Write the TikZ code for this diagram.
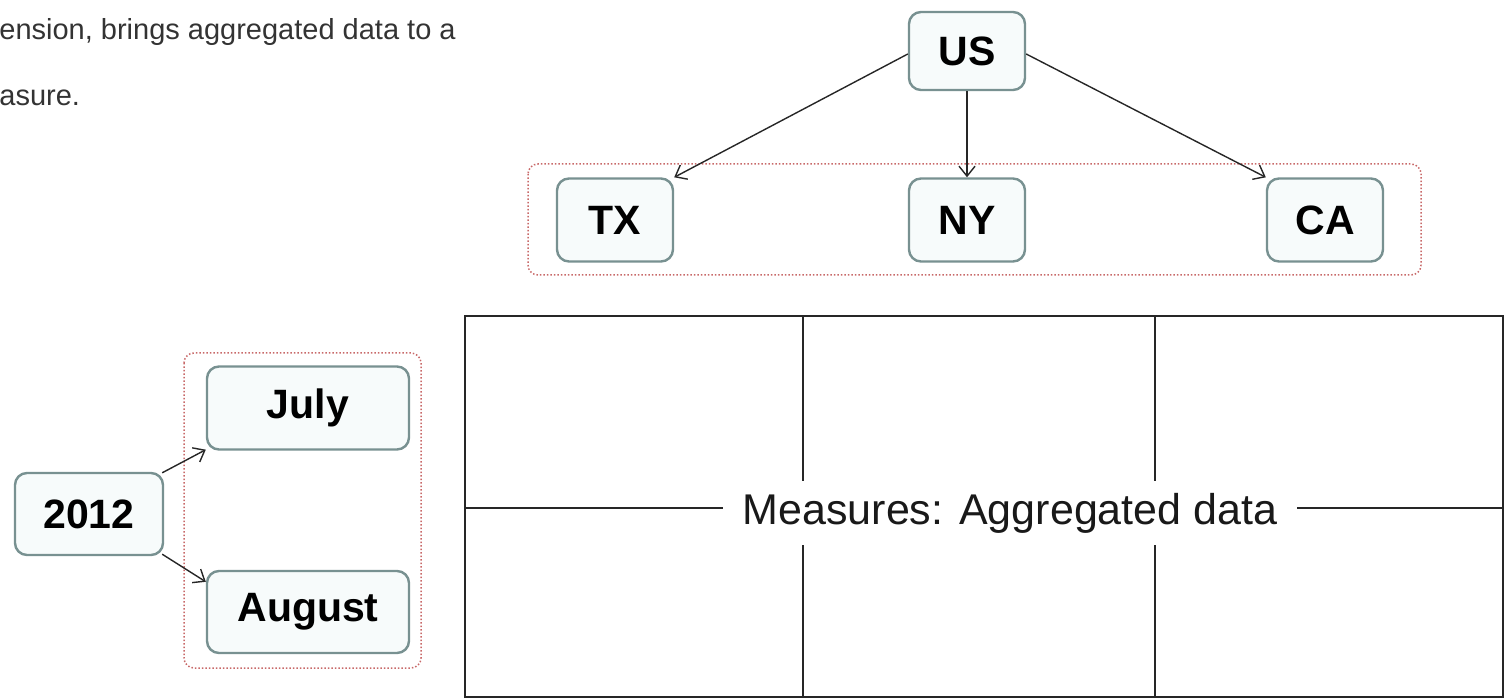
\documentclass[tikz,border=0pt]{standalone}
\usepackage{fontspec}
\setmainfont{Liberation Sans}
\usetikzlibrary{arrows.meta,calc}
\definecolor{nodeborder}{RGB}{120,145,145}
\definecolor{nodefill}{RGB}{247,251,251}
\definecolor{grpred}{RGB}{200,105,105}
\tikzset{
  dimbox/.style={draw=nodeborder, fill=nodefill, line width=1.2pt, rounded corners=6pt,
    font=\fontsize{20.5}{24}\selectfont\bfseries, inner sep=0pt},
  grp/.style={draw=grpred, densely dotted, line width=0.75pt, rounded corners=5pt},
  conn/.style={-{Straight Barb[length=5pt,width=8pt]}, line width=0.7pt, black!85},
  tbl/.style={line width=1pt, black!85}
}
\begin{document}
\begin{tikzpicture}[x=0.5pt,y=-0.5pt]
\useasboundingbox (0,0) rectangle (1508,699);
% top-left text fragment
\node[anchor=west, inner sep=0pt, text=black!80, font=\fontsize{14.5}{16}\selectfont] (t1) at (-1,32) {ension, brings aggregated data to a};
\node[anchor=west, inner sep=0pt, text=black!80, font=\fontsize{14.5}{16}\selectfont] (t2) at (-1,98) {asure.};
% groups
\draw[grp] (528,164) rectangle (1421,275);
\draw[grp] (184,353) rectangle (421,668);
% top hierarchy
\node[dimbox, minimum width=58pt, minimum height=39pt] (us) at (967,51) {US};
\node[dimbox, minimum width=58pt, minimum height=41.5pt] (tx) at (615,220) {TX};
\node[dimbox, minimum width=58pt, minimum height=41.5pt] (ny) at (967,220) {NY};
\node[dimbox, minimum width=58pt, minimum height=41.5pt] (ca) at (1325,220) {CA};
\draw[conn] ($(us.west)+(0,3)$) -- (tx.north east);
\draw[conn] (us.south) -- (ny.north);
\draw[conn] ($(us.east)+(0,3)$) -- (ca.north west);
% left hierarchy
\node[dimbox, minimum width=74pt, minimum height=41pt] (y2012) at (89,514) {2012};
\node[dimbox, minimum width=101pt, minimum height=41.5pt] (jul) at (308,408) {July};
\node[dimbox, minimum width=101pt, minimum height=41pt] (aug) at (308,612) {August};
\draw[conn] ($(y2012.north east)+(-2,1)$) -- ($(jul.south west)+(0,-1)$);
\draw[conn] ($(y2012.south east)+(-2,-2)$) -- ($(aug.north west)+(0,12)$);
% table
\draw[tbl] (465,316) rectangle (1503,697);
\draw[tbl] (803,316) -- (803,697);
\draw[tbl] (1155,316) -- (1155,697);
\draw[tbl] (465,508) -- (1503,508);
\node[fill=white, inner xsep=10pt, minimum height=32pt, font=\fontsize{21.5}{25}\selectfont, text=black!90] (meas) at (1010,513) {Measures: Aggregated data};
\end{tikzpicture}
\end{document}
